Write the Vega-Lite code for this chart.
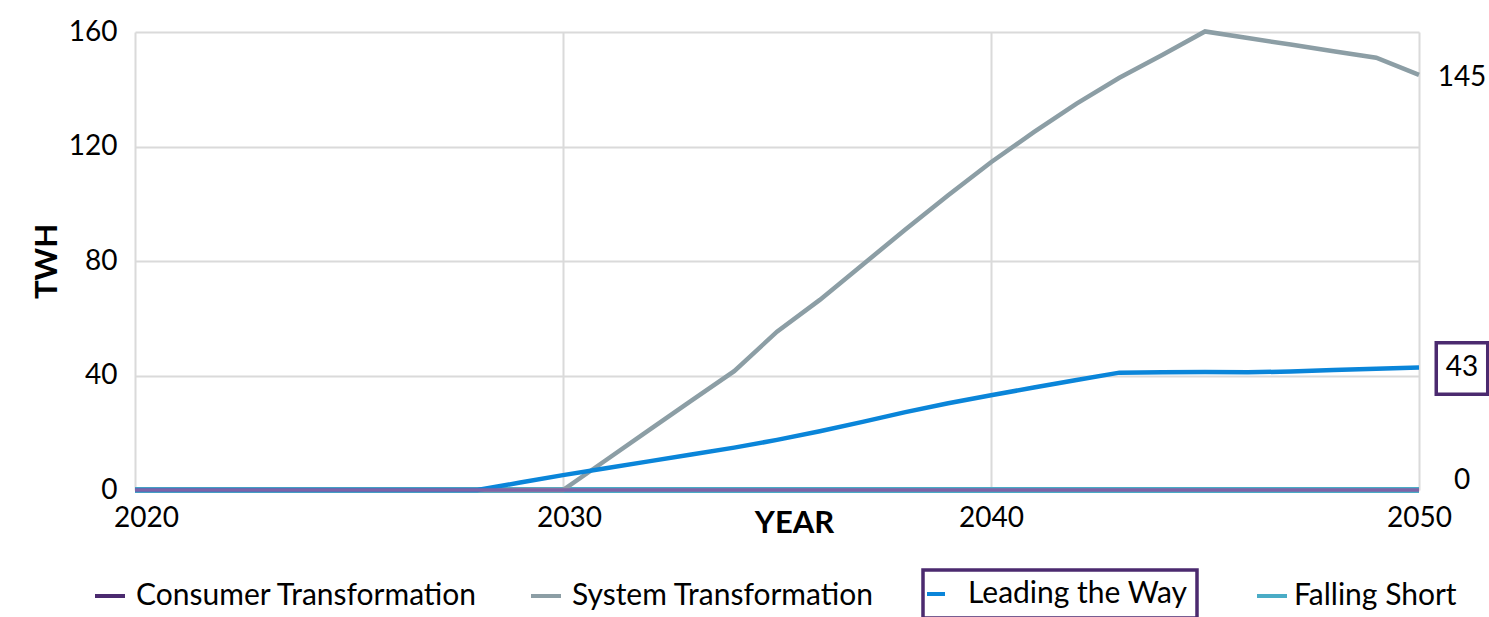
{
  "$schema": "https://vega.github.io/schema/vega-lite/v6.json",
  "width": 1284,
  "height": 458,
  "autosize": {"type": "none"},
  "padding": {"left": 135, "top": 32, "right": 70, "bottom": 127},
  "background": "white",
  "config": {
    "view": {"stroke": null},
    "font": "Lato",
    "axis": {"labelFont": "Lato", "titleFont": "Lato", "labelColor": "#000", "titleColor": "#000"},
    "legend": {"labelFont": "Lato", "labelColor": "#000", "labelLimit": 0}
  },
  "data": {
    "values": [
      {"year": 2020, "Consumer Transformation": 0, "System Transformation": 0, "Leading the Way": 0, "Falling Short": 0},
      {"year": 2021, "Consumer Transformation": 0, "System Transformation": 0, "Leading the Way": 0, "Falling Short": 0},
      {"year": 2022, "Consumer Transformation": 0, "System Transformation": 0, "Leading the Way": 0, "Falling Short": 0},
      {"year": 2023, "Consumer Transformation": 0, "System Transformation": 0, "Leading the Way": 0, "Falling Short": 0},
      {"year": 2024, "Consumer Transformation": 0, "System Transformation": 0, "Leading the Way": 0, "Falling Short": 0},
      {"year": 2025, "Consumer Transformation": 0, "System Transformation": 0, "Leading the Way": 0, "Falling Short": 0},
      {"year": 2026, "Consumer Transformation": 0, "System Transformation": 0, "Leading the Way": 0, "Falling Short": 0},
      {"year": 2027, "Consumer Transformation": 0, "System Transformation": 0, "Leading the Way": 0, "Falling Short": 0},
      {"year": 2028, "Consumer Transformation": 0, "System Transformation": 0, "Leading the Way": 0, "Falling Short": 0},
      {"year": 2029, "Consumer Transformation": 0, "System Transformation": 0, "Leading the Way": 2.6, "Falling Short": 0},
      {"year": 2030, "Consumer Transformation": 0, "System Transformation": 0, "Leading the Way": 5.2, "Falling Short": 0},
      {"year": 2031, "Consumer Transformation": 0, "System Transformation": 10.4, "Leading the Way": 7.6, "Falling Short": 0},
      {"year": 2032, "Consumer Transformation": 0, "System Transformation": 20.8, "Leading the Way": 10.0, "Falling Short": 0},
      {"year": 2033, "Consumer Transformation": 0, "System Transformation": 31.2, "Leading the Way": 12.4, "Falling Short": 0},
      {"year": 2034, "Consumer Transformation": 0, "System Transformation": 41.5, "Leading the Way": 14.8, "Falling Short": 0},
      {"year": 2035, "Consumer Transformation": 0, "System Transformation": 55.3, "Leading the Way": 17.5, "Falling Short": 0},
      {"year": 2036, "Consumer Transformation": 0, "System Transformation": 66.4, "Leading the Way": 20.5, "Falling Short": 0},
      {"year": 2037, "Consumer Transformation": 0, "System Transformation": 78.7, "Leading the Way": 23.8, "Falling Short": 0},
      {"year": 2038, "Consumer Transformation": 0, "System Transformation": 91.0, "Leading the Way": 27.2, "Falling Short": 0},
      {"year": 2039, "Consumer Transformation": 0, "System Transformation": 103.0, "Leading the Way": 30.3, "Falling Short": 0},
      {"year": 2040, "Consumer Transformation": 0, "System Transformation": 114.5, "Leading the Way": 33.1, "Falling Short": 0},
      {"year": 2041, "Consumer Transformation": 0, "System Transformation": 125.0, "Leading the Way": 35.8, "Falling Short": 0},
      {"year": 2042, "Consumer Transformation": 0, "System Transformation": 135.0, "Leading the Way": 38.4, "Falling Short": 0},
      {"year": 2043, "Consumer Transformation": 0, "System Transformation": 144.0, "Leading the Way": 41.0, "Falling Short": 0},
      {"year": 2044, "Consumer Transformation": 0, "System Transformation": 152.0, "Leading the Way": 41.1, "Falling Short": 0},
      {"year": 2045, "Consumer Transformation": 0, "System Transformation": 160.2, "Leading the Way": 41.2, "Falling Short": 0},
      {"year": 2046, "Consumer Transformation": 0, "System Transformation": 157.9, "Leading the Way": 41.1, "Falling Short": 0},
      {"year": 2047, "Consumer Transformation": 0, "System Transformation": 155.6, "Leading the Way": 41.4, "Falling Short": 0},
      {"year": 2048, "Consumer Transformation": 0, "System Transformation": 153.3, "Leading the Way": 41.9, "Falling Short": 0},
      {"year": 2049, "Consumer Transformation": 0, "System Transformation": 151.0, "Leading the Way": 42.4, "Falling Short": 0},
      {"year": 2050, "Consumer Transformation": 0, "System Transformation": 145.0, "Leading the Way": 42.8, "Falling Short": 0}
    ]
  },
  "transform": [
    {"fold": ["Consumer Transformation", "System Transformation", "Leading the Way", "Falling Short"], "as": ["series", "twh"]}
  ],
  "encoding": {
    "x": {
      "field": "year", "type": "quantitative",
      "scale": {"domain": [2020, 2050], "nice": false, "zero": false},
      "axis": {
        "values": [2020, 2030, 2040, 2050], "format": "d",
        "labelFontSize": 28, "labelPadding": 14, "labelFlush": false, "ticks": false, "domain": false,
        "labelOffset": {"condition": [{"test": "datum.value === 2020", "value": 11}, {"test": "datum.value === 2030", "value": 6}], "value": 0},
        "grid": true, "gridColor": "#dadada", "gridWidth": 2,
        "title": "YEAR", "titleFontSize": 31, "titleFontWeight": "bold",
        "titleX": 659, "titleY": 42, "titleBaseline": "alphabetic", "titleAnchor": null
      }
    },
    "y": {
      "field": "twh", "type": "quantitative",
      "scale": {"domain": [0, 160], "nice": false},
      "axis": {
        "values": [0, 40, 80, 120, 160],
        "labelFontSize": 28, "labelPadding": 18, "labelFlush": false, "ticks": false, "domain": false,
        "grid": true, "gridColor": "#dadada", "gridWidth": 2,
        "title": "TWH", "titleFontSize": 31, "titleFontWeight": "bold", "titlePadding": 5
      }
    }
  },
  "layer": [
    {
      "transform": [{"filter": "datum.series === 'Falling Short'"}],
      "mark": {"type": "line", "strokeWidth": 6},
      "encoding": {
        "color": {
          "field": "series", "type": "nominal",
          "scale": {"domain": ["Falling Short"], "range": ["#4aacc6"]},
          "legend": {
            "orient": "none", "legendX": 1120, "legendY": 547, "direction": "horizontal",
            "title": null, "symbolType": "stroke", "symbolSize": 900, "symbolStrokeWidth": 4,
            "labelFontSize": 30, "labelOffset": 5, "padding": 0, "labelLimit": 0
          }
        }
      }
    },
    {
      "transform": [{"filter": "datum.series === 'System Transformation'"}],
      "mark": {"type": "line", "strokeWidth": 4.5},
      "encoding": {
        "color": {
          "field": "series", "type": "nominal",
          "scale": {"domain": ["Consumer Transformation", "System Transformation"], "range": ["#4b2a6f", "#8c9ea5"]},
          "legend": {
            "orient": "none", "legendX": -42, "legendY": 547, "direction": "horizontal", "columns": 2,
            "title": null, "symbolType": "stroke", "symbolSize": 900, "symbolStrokeWidth": 4,
            "labelFontSize": 30, "labelOffset": 9, "columnPadding": 45, "padding": 0, "labelLimit": 0
          }
        }
      }
    },
    {
      "transform": [{"filter": "datum.series === 'Leading the Way'"}],
      "mark": {"type": "line", "strokeWidth": 4.5},
      "encoding": {
        "color": {
          "field": "series", "type": "nominal",
          "scale": {"domain": ["Leading the Way"], "range": ["#0a85d9"]},
          "legend": {
            "orient": "none", "legendX": 788, "legendY": 538, "direction": "horizontal",
            "title": null, "symbolType": "stroke", "symbolSize": 324, "symbolStrokeWidth": 4,
            "symbolOffset": -11,
            "labelFontSize": 30, "labelOffset": 17, "padding": 9, "strokeColor": "#4b2a6f", "labelLimit": 0,
            "encode": {"legend": {"update": {"strokeWidth": {"value": 3.5}}}}
          }
        }
      }
    },
    {
      "transform": [{"filter": "datum.series === 'Consumer Transformation'"}],
      "mark": {"type": "line", "strokeWidth": 3.5, "color": "#7f63a6"}
    },
    {
      "transform": [{"filter": "datum.series === 'System Transformation' && datum.year === 2050"}],
      "mark": {"type": "text", "fontSize": 28, "font": "Lato", "color": "#000", "xOffset": 43, "yOffset": 3, "align": "center", "baseline": "middle"},
      "encoding": {"text": {"field": "twh", "type": "quantitative", "format": "d"}}
    },
    {
      "transform": [{"filter": "datum.series === 'Leading the Way' && datum.year === 2050"}],
      "mark": {"type": "text", "fontSize": 28, "font": "Lato", "color": "#000", "xOffset": 43, "yOffset": 1, "align": "center", "baseline": "middle"},
      "encoding": {"text": {"field": "twh", "type": "quantitative", "format": ".0f"}}
    },
    {
      "transform": [{"filter": "datum.series === 'Leading the Way' && datum.year === 2050"}],
      "mark": {"type": "point", "shape": "square", "size": 2650, "filled": false, "color": "#4b2a6f", "strokeWidth": 3.5, "opacity": 1, "xOffset": 43, "yOffset": 1}
    },
    {
      "transform": [{"filter": "datum.series === 'Consumer Transformation' && datum.year === 2050"}],
      "mark": {"type": "text", "fontSize": 28, "font": "Lato", "color": "#000", "xOffset": 43, "yOffset": -9, "align": "center", "baseline": "middle"},
      "encoding": {"text": {"field": "twh", "type": "quantitative", "format": "d"}}
    }
  ],
  "resolve": {"scale": {"color": "independent"}, "legend": {"color": "independent"}}
}
